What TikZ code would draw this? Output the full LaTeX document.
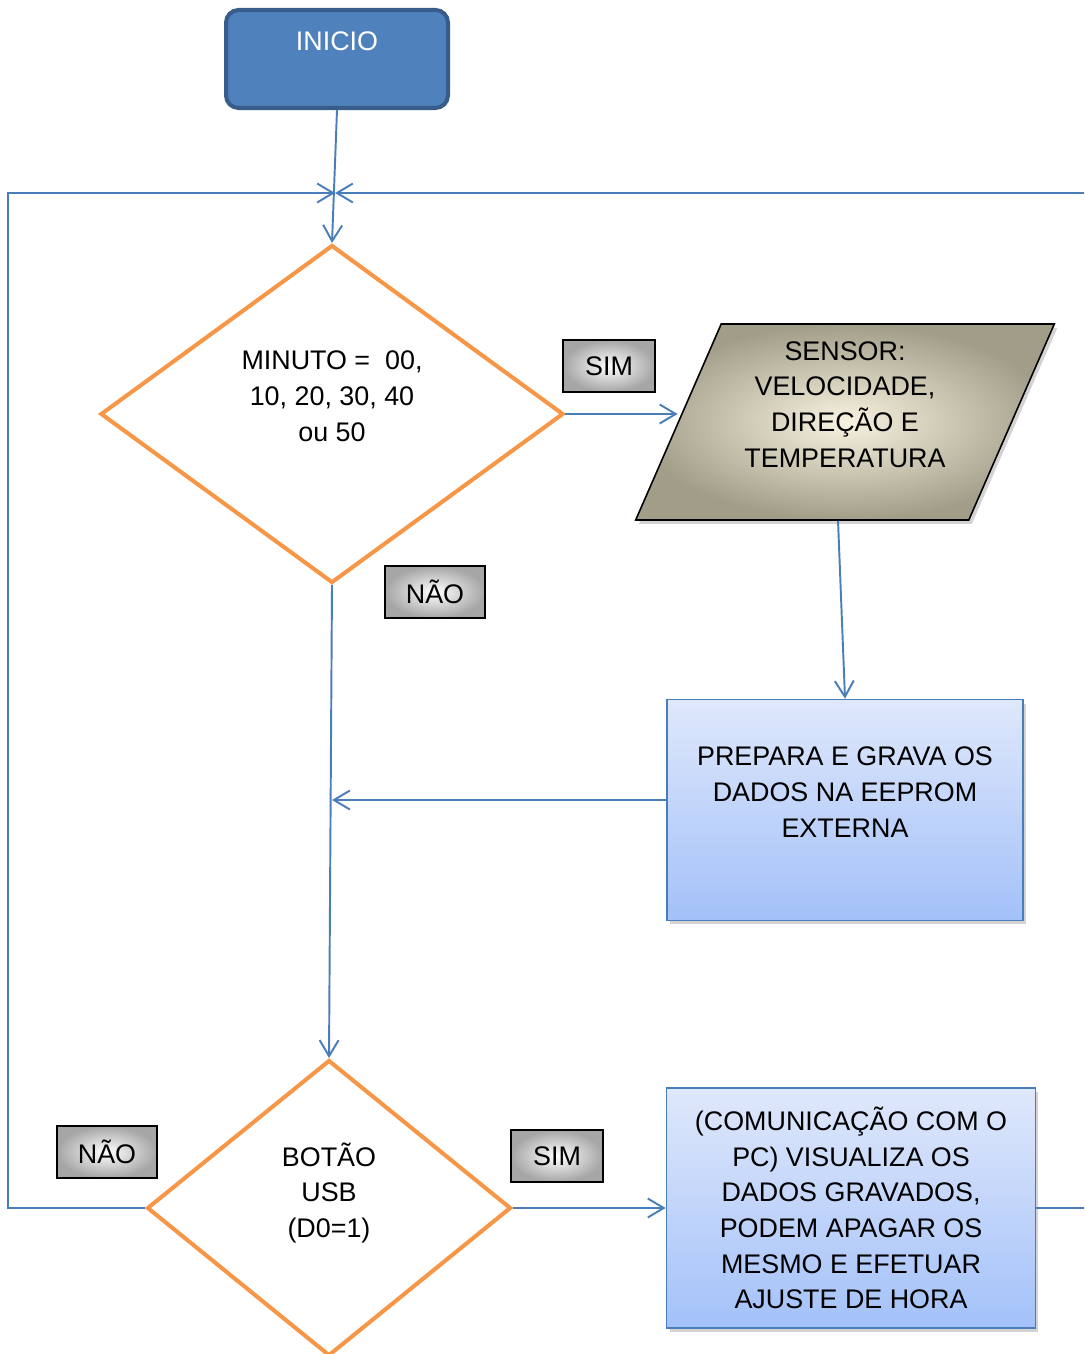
\documentclass[tikz,border=0pt]{standalone}
\usepackage{fontspec}
\setmainfont{Liberation Sans}
\usetikzlibrary{shapes.geometric, arrows.meta, shadows}

\definecolor{inicioblue}{HTML}{4F81BD}
\definecolor{iniciodark}{HTML}{385D8A}
\definecolor{lineblue}{HTML}{4A7EBB}
\definecolor{decorange}{HTML}{F79646}
\definecolor{sensorlight}{HTML}{F8F3E0}
\definecolor{sensordark}{HTML}{A29D88}
\definecolor{boxtop}{HTML}{DFE8FB}
\definecolor{boxbottom}{HTML}{A3C1F9}

\begin{document}
\begin{tikzpicture}[x=0.02cm, y=-0.02cm,
    font=\fontsize{15.3}{20.3}\selectfont,
    >={Straight Barb[length=0.32cm, width=0.38cm]},
    flow/.style={draw=lineblue, line width=1.1pt},
    startbox/.style={rectangle, rounded corners=0.25cm, draw=iniciodark, line width=2.3pt,
        fill=inicioblue, text=white, minimum width=4.44cm, minimum height=1.96cm, align=center},
    decision/.style={diamond, draw=decorange, line width=2.3pt, fill=white,
        inner sep=0pt, align=center},
    answer/.style={rectangle, draw=black, line width=0.6pt, inner color=white,
        outer color=gray!70, minimum height=1.04cm},
    databox/.style={trapezium, trapezium left angle=67, trapezium right angle=113,
        trapezium stretches=true, draw=black, line width=0.9pt,
        inner color=sensorlight, outer color=sensordark,
        minimum width=8.4cm, minimum height=3.92cm, align=center,
        drop shadow={opacity=0.35, shadow xshift=0.06cm, shadow yshift=-0.08cm}},
    procbox/.style={rectangle, draw=lineblue, line width=1pt,
        top color=boxtop, bottom color=boxbottom, align=center,
        drop shadow={opacity=0.35, shadow xshift=0.06cm, shadow yshift=-0.08cm}}]

    \useasboundingbox (0,0) rectangle (1084,1354);
    \clip (0,0) rectangle (1084,1354);

    % Start
    \node[startbox] (inicio) at (337,59) {INICIO\\ \mbox{}};

    % Decisions
    \node[decision, minimum width=9.26cm, minimum height=6.76cm] (minuto) at (332,414)
        {MINUTO =\ \ 00,\\10, 20, 30, 40\\ou 50\\ \mbox{}};
    \node[decision, minimum width=7.28cm, minimum height=5.92cm] (botao) at (329,1208)
        {BOTÃO\\USB\\(D0=1)\\ \mbox{}};

    % Sensor read
    \node[databox] (sensor) at (845,422)
        {SENSOR:\\VELOCIDADE,\\DIREÇÃO E\\TEMPERATURA\\ \mbox{}};

    % Processes
    \node[procbox, minimum width=7.12cm, minimum height=4.42cm] (grava) at (845,810)
        {PREPARA E GRAVA OS\\DADOS NA EEPROM\\EXTERNA\\ \mbox{}};
    \node[procbox, minimum width=7.38cm, minimum height=4.8cm] (pc) at (851,1208)
        {(COMUNICAÇÃO COM O\\PC) VISUALIZA OS\\DADOS GRAVADOS,\\PODEM APAGAR OS\\MESMO E EFETUAR\\AJUSTE DE HORA};

    % Answers
    \node[answer, minimum width=1.84cm] (sim1) at (609,366) {SIM};
    \node[answer, minimum width=2cm] (nao1) at (435,592) {NÃO};
    \node[answer, minimum width=2cm] (nao2) at (107,1152) {NÃO};
    \node[answer, minimum width=1.84cm] (sim2) at (557,1156) {SIM};

    % Merge point of the loop
    \coordinate (merge) at (335,193);

    % Connections
    \draw[flow, ->] (inicio.south) -- (minuto.north);
    \draw[flow, ->] (minuto.east) -- (minuto.east -| sensor.west);
    \draw[flow, ->] ([xshift=-0.14cm]sensor.south) -- (grava.north);
    \draw[flow, ->] ([yshift=0.2cm]grava.west) -- ([yshift=0.2cm]grava.west -| minuto.south);
    \draw[flow, ->] (minuto.south) -- (botao.north);
    \draw[flow, ->] (botao.east) -- (pc.west);
    \draw[flow, ->] (botao.west) -- (8,1208) |- (merge);
    \draw[flow, ->] (pc.east) -| (1110,193) -- (merge);
\end{tikzpicture}
\end{document}
